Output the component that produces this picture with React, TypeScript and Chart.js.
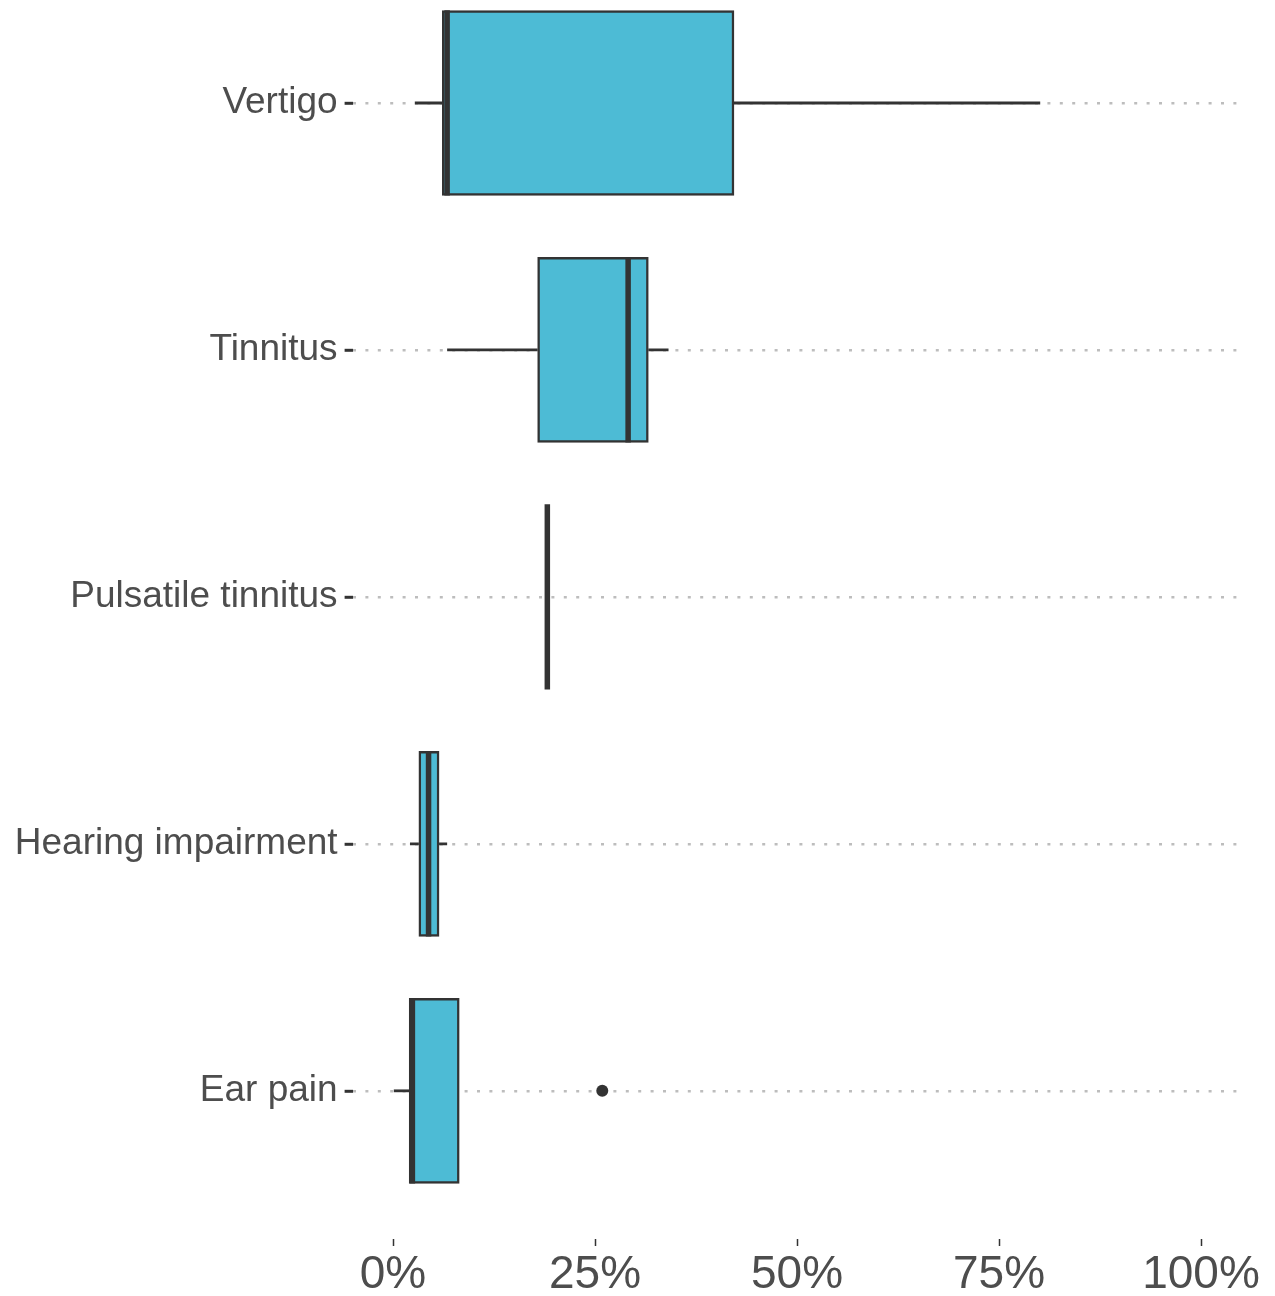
import React, { useEffect, useRef } from "react";
import { Chart, registerables } from "chart.js";

Chart.register(...registerables);

// ---- data ----
const categories = [
  "Vertigo",
  "Tinnitus",
  "Pulsatile tinnitus",
  "Hearing impairment",
  "Ear pain",
];
const whiskerLow = [2.7, 6.7, 19.1, 2.1, 0.1];
const q1 = [6.1, 17.9, 19.1, 3.2, 2.0];
const median = [6.7, 29.1, 19.1, 4.4, 2.4];
const q3 = [42.2, 31.6, 19.1, 5.7, 8.2];
const whiskerHigh = [80.1, 34.1, 19.1, 6.7, 8.2];
const outlierCategory = [4];
const outlierValue = [25.9];
const xTickValues = [0, 25, 50, 75, 100];

const FONT = "'Liberation Sans', Arial, Helvetica, sans-serif";
const DARK = "#333333";
const TEXT = "#4d4d4d";
const FILL = "#4DBBD5";
const HALF_BOX = 0.375;

const boxParts = {
  id: "boxParts",
  beforeDatasetsDraw(chart: any) {
    const { ctx, scales } = chart;
    const x = scales.x;
    const y = scales.y;
    ctx.save();
    ctx.strokeStyle = DARK;
    ctx.lineWidth = 2.8;
    ctx.lineCap = "butt";
    categories.forEach((_, i) => {
      const yc = y.getPixelForValue(i);
      ctx.beginPath();
      ctx.moveTo(x.getPixelForValue(whiskerLow[i]), yc);
      ctx.lineTo(x.getPixelForValue(q1[i]), yc);
      ctx.moveTo(x.getPixelForValue(q3[i]), yc);
      ctx.lineTo(x.getPixelForValue(whiskerHigh[i]), yc);
      ctx.stroke();
    });
    ctx.restore();
  },
  afterDatasetsDraw(chart: any) {
    const { ctx, scales } = chart;
    const x = scales.x;
    const y = scales.y;
    ctx.save();
    ctx.strokeStyle = DARK;
    ctx.lineWidth = 5.5;
    ctx.lineCap = "butt";
    categories.forEach((_, i) => {
      const xm = x.getPixelForValue(median[i]);
      ctx.beginPath();
      ctx.moveTo(xm, y.getPixelForValue(i - HALF_BOX));
      ctx.lineTo(xm, y.getPixelForValue(i + HALF_BOX));
      ctx.stroke();
    });
    ctx.fillStyle = DARK;
    outlierValue.forEach((v, k) => {
      ctx.beginPath();
      ctx.arc(x.getPixelForValue(v), y.getPixelForValue(outlierCategory[k]), 6, 0, Math.PI * 2);
      ctx.fill();
    });
    ctx.restore();
  },
};

export default function App() {
  const ref = useRef<HTMLCanvasElement | null>(null);

  useEffect(() => {
    if (!ref.current) return;
    const chart = new Chart(ref.current, {
      type: "bar",
      data: {
        datasets: [
          {
            data: categories.map((_, i) => ({ x: [q1[i], q3[i]], y: i })) as any,
            backgroundColor: FILL,
            borderColor: DARK,
            borderWidth: 2.5,
            borderSkipped: false,
            barThickness: 185,
          },
        ],
      },
      options: {
        indexAxis: "y",
        responsive: false,
        animation: false,
        devicePixelRatio: 1,
        layout: { padding: { left: 0, right: 33.6, top: 0, bottom: 0 } },
        plugins: { legend: { display: false }, tooltip: { enabled: false } },
        scales: {
          x: {
            type: "linear",
            min: -5,
            max: 105,
            offset: false,
            afterBuildTicks: (scale: any) => {
              scale.ticks = xTickValues.map((v) => ({ value: v }));
            },
            afterFit: (scale: any) => {
              scale.height = 57;
              scale.paddingLeft = 0;
              scale.paddingRight = 0;
            },
            grid: {
              offset: false,
              drawOnChartArea: false,
              drawTicks: true,
              tickLength: 7,
              tickWidth: 1.5,
              tickColor: DARK,
            },
            border: { display: false },
            ticks: {
              autoSkip: false,
              maxRotation: 0,
              padding: 2,
              color: TEXT,
              font: { family: FONT, size: 46 },
              callback: (v: any) => `${v}%`,
            },
          },
          y: {
            type: "linear",
            min: -0.417,
            max: 4.6,
            reverse: true,
            offset: false,
            afterBuildTicks: (scale: any) => {
              scale.ticks = categories.map((_, i) => ({ value: i }));
            },
            afterFit: (scale: any) => {
              scale.width = 352.6;
              scale.paddingTop = 0;
              scale.paddingBottom = 0;
            },
            grid: {
              offset: false,
              drawOnChartArea: true,
              drawTicks: true,
              color: "#bdbdbd",
              lineWidth: 2.6,
              tickLength: 8,
              tickWidth: 3,
              tickColor: DARK,
              tickBorderDash: [],
            },
            border: { display: false, dash: [3, 9.4] },
            ticks: {
              autoSkip: false,
              padding: 7,
              color: TEXT,
              font: { family: FONT, size: 37 },
              callback: (v: any) => categories[v as number] ?? "",
            },
          },
        },
      },
      plugins: [boxParts],
    });
    return () => chart.destroy();
  }, []);

  return (
    <div style={{ position: "absolute", left: 0, top: 0, width: 1275, height: 1296, background: "#ffffff" }}>
      <canvas ref={ref} width={1275} height={1296} style={{ width: 1275, height: 1296, display: "block" }} />
    </div>
  );
}
